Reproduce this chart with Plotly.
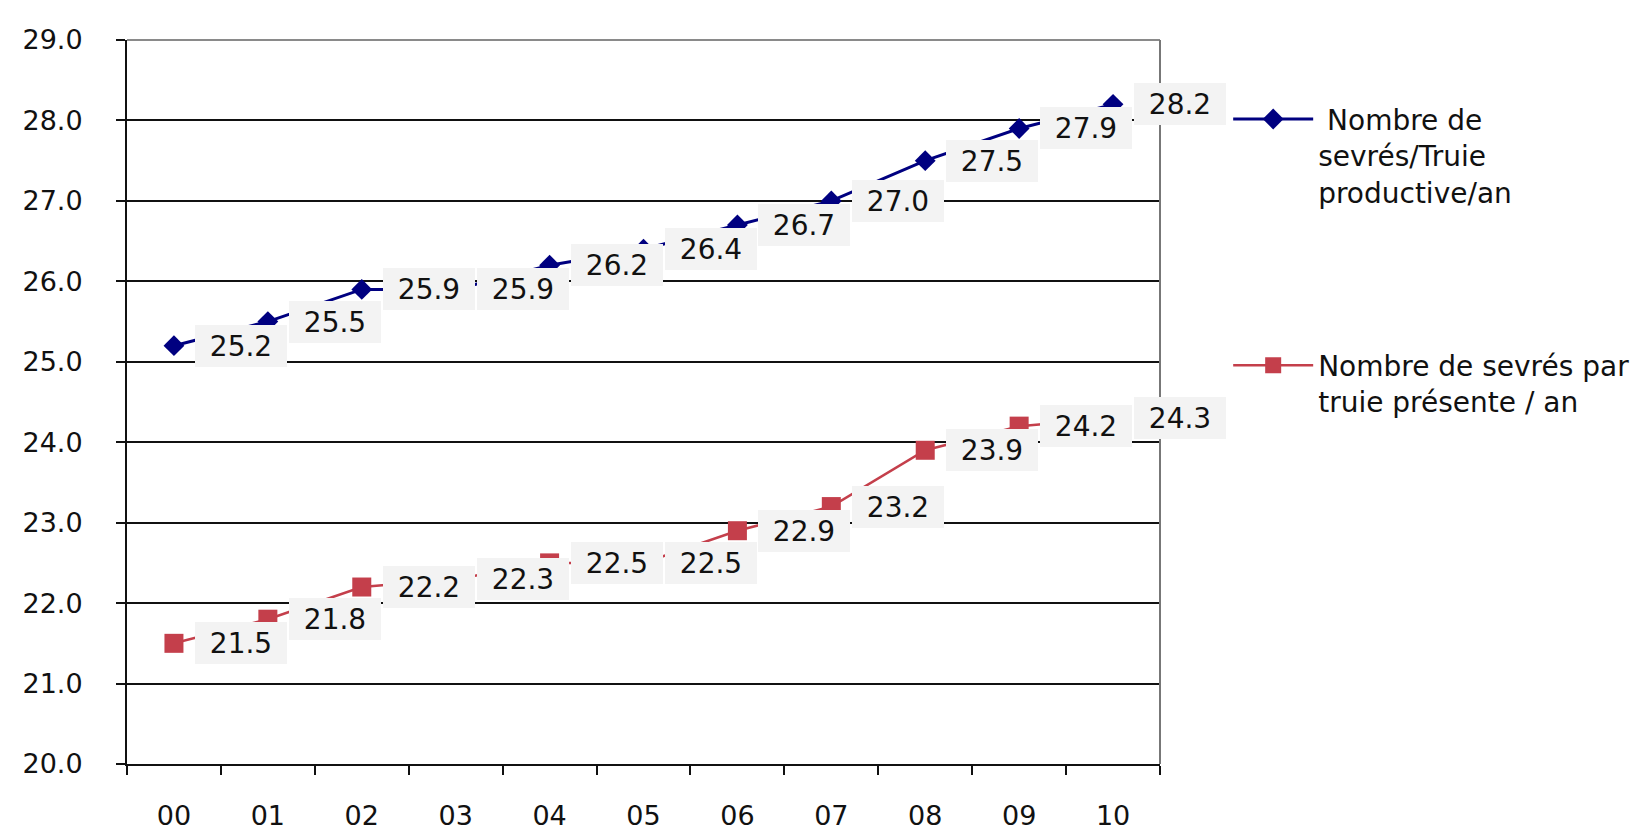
import plotly.graph_objects as go

years = ["00", "01", "02", "03", "04", "05", "06", "07", "08", "09", "10"]
productive = [25.2, 25.5, 25.9, 25.9, 26.2, 26.4, 26.7, 27.0, 27.5, 27.9, 28.2]
presente = [21.5, 21.8, 22.2, 22.3, 22.5, 22.5, 22.9, 23.2, 23.9, 24.2, 24.3]
name_prod = " Nombre de<br>sevrés/Truie<br>productive/an"
name_pres = "Nombre de sevrés par<br>truie présente / an"
y_ticks = [20, 21, 22, 23, 24, 25, 26, 27, 28, 29]

BLUE = "#000080"
RED = "#c43f4b"
FONT = "DejaVu Sans"
TXT = "#111111"

fig = go.Figure()
fig.add_trace(go.Scatter(
    x=years, y=productive, name=name_prod, mode="lines+markers",
    line=dict(color=BLUE, width=3),
    marker=dict(symbol="diamond", size=16, color=BLUE),
    legend="legend", showlegend=True,
))
fig.add_trace(go.Scatter(
    x=years, y=presente, name=name_pres, mode="lines+markers",
    line=dict(color=RED, width=2.5),
    marker=dict(symbol="square", size=19, color=RED),
    legend="legend2", showlegend=True,
))

annotations = []
for series in (productive, presente):
    for cat, v in zip(years, series):
        annotations.append(dict(
            x=cat, y=v, xref="x", yref="y", text=f"{v:.1f}",
            showarrow=False, xanchor="left", yanchor="middle", xshift=21,
            bgcolor="#f3f3f3", width=84, height=34, borderpad=4, borderwidth=0,
            font=dict(family=FONT, size=28, color=TXT), align="center",
        ))

fig.update_layout(
    width=1648, height=835,
    paper_bgcolor="white", plot_bgcolor="white",
    margin=dict(l=119, r=496, t=32, b=66),
    font=dict(family=FONT, size=27, color=TXT),
    annotations=annotations,
    showlegend=True,
    legend=dict(x=1.066, y=0.925, xanchor="left", yanchor="top",
                valign="top", itemwidth=80, bgcolor="rgba(0,0,0,0)",
                font=dict(family=FONT, size=28, color=TXT), visible=True),
    legend2=dict(x=1.066, y=0.585, xanchor="left", yanchor="top",
                 valign="top", itemwidth=80, bgcolor="rgba(0,0,0,0)",
                 font=dict(family=FONT, size=28, color=TXT), visible=True),
    shapes=[
        dict(type="line", xref="x domain", yref="y domain", x0=0, x1=1, y0=1, y1=1,
             line=dict(color="#8a8a8a", width=2), layer="above"),
        dict(type="line", xref="x domain", yref="y domain", x0=1, x1=1, y0=0, y1=1,
             line=dict(color="#777777", width=2), layer="above"),
    ],
)
fig.update_xaxes(
    type="category", range=[-0.5, 10.5], tickson="boundaries",
    ticks="outside", ticklen=9, tickwidth=2, tickcolor="#111",
    showline=True, linecolor="#111", linewidth=2,
    showgrid=False, ticklabelstandoff=27,
    tickfont=dict(family=FONT, size=27, color=TXT),
)
fig.update_yaxes(
    range=[20, 29], tickvals=y_ticks, tickformat=".1f",
    ticks="outside", ticklen=9, tickwidth=2, tickcolor="#111",
    showline=True, linecolor="#111", linewidth=2,
    showgrid=True, gridcolor="#111", gridwidth=2, zeroline=False,
    ticklabelstandoff=28,
    tickfont=dict(family=FONT, size=27, color=TXT),
)

fig.write_html("out.html")
